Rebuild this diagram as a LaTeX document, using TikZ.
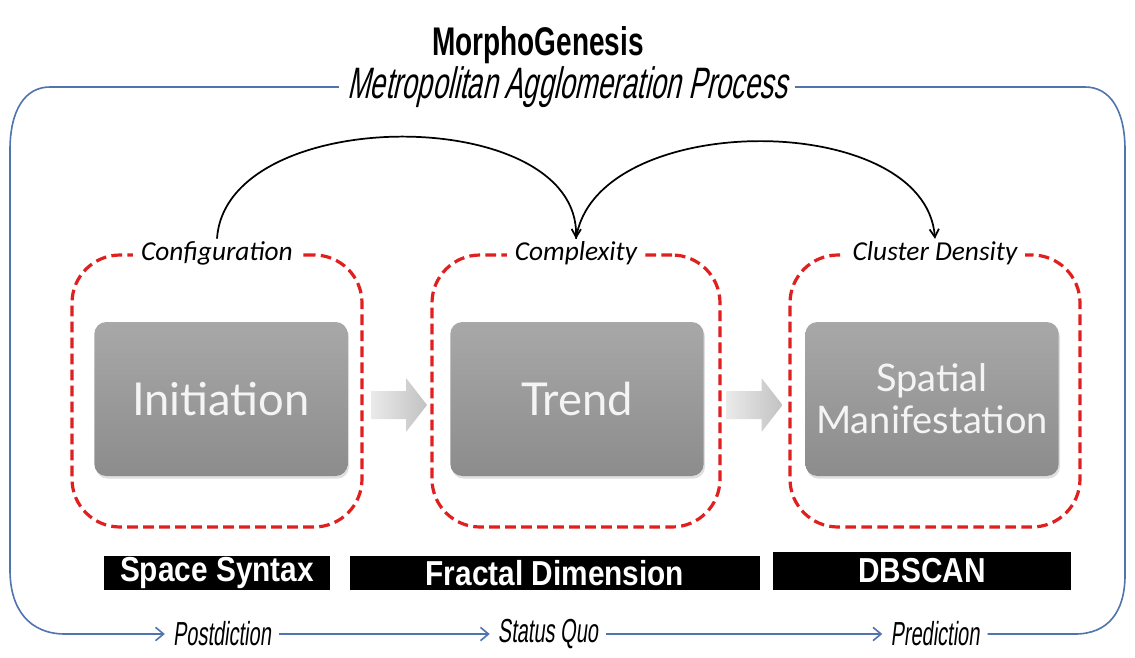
\documentclass[tikz,border=0pt]{standalone}
\usepackage{fontspec}
\setmainfont{Liberation Sans}
\newfontfamily\titlefont[FakeStretch=0.7]{Liberation Sans Bold}
\newfontfamily\subtfont[FakeStretch=0.62,FakeSlant=0.22]{Liberation Sans}
\newfontfamily\condit[FakeStretch=0.6,FakeSlant=0.12]{Liberation Sans}
\newfontfamily\blackfont[FakeStretch=0.86]{Liberation Sans Bold}
\newfontfamily\labfont{Carlito}
\newfontfamily\boxfont{Lato}
\usetikzlibrary{shadows,calc,arrows.meta}
\definecolor{frameblue}{HTML}{4F74AE}
\definecolor{dashred}{HTML}{E01F1F}
\definecolor{boxtop}{HTML}{A8A8A8}
\definecolor{boxbot}{HTML}{8C8C8C}
\definecolor{boxtext}{HTML}{F4F4F4}
\definecolor{arrl}{HTML}{EAEAEA}
\definecolor{arrr}{HTML}{C2C2C2}
\tikzset{
  graybox/.style={rectangle, rounded corners=9pt, top color=boxtop, bottom color=boxbot,
    minimum width=190pt, minimum height=115.5pt, text=boxtext, align=center,
    font=\boxfont\fontsize{34}{31}\selectfont,
    drop shadow={opacity=0.25, shadow xshift=1pt, shadow yshift=-2pt}},
  redbox/.style={rectangle, draw=dashred, line width=2.4pt, dash pattern=on 8pt off 4pt,
    rounded corners=36pt, minimum height=204pt, inner sep=0pt},
  grouplabel/.style={fill=white, inner xsep=6pt, inner ysep=2pt,
    font=\labfont\itshape\fontsize{20.5}{24}\selectfont},
  arcarrow/.style={line width=1.3pt, -{Straight Barb[length=6pt,width=7pt]}},
  blockarrow/.style={left color=arrl, right color=arrr, draw=none},
  blackbox/.style={fill=black, text=white, inner sep=0pt,
    font=\blackfont\fontsize{26}{28}\selectfont},
  bottomlabel/.style={inner xsep=6pt, font=\condit\fontsize{25}{28}\selectfont},
  frame/.style={draw=frameblue, line width=1.2pt},
  framearrow/.style={frame, -{Straight Barb[length=6pt,width=10pt]}}
}
\begin{document}
\begin{tikzpicture}[x=0.75pt,y=-0.75pt]
\path[use as bounding box, fill=white] (0,0) rectangle (1135,657);

% title
\node[font=\titlefont\fontsize{30}{34}\selectfont] (title) at (538,45) {MorphoGenesis};
\node[font=\subtfont\fontsize{33}{36}\selectfont, inner xsep=6pt, inner ysep=0pt] (subt) at (567,87) {Metropolitan Agglomeration Process};

% red dashed groups
\node[redbox, minimum width=217.5pt] (g1) at (217,391) {};
\node[redbox, minimum width=216pt] (g2) at (576,391) {};
\node[redbox, minimum width=217.5pt] (g3) at (935,391) {};
\node[grouplabel] (conf) at (g1.north) {Configuration};
\node[grouplabel] (cplx) at (g2.north) {Complexity};
\node[grouplabel] (clus) at (g3.north) {Cluster Density};

% gray boxes
\node[graybox] (init) at (221,399) {Initiation};
\node[graybox] (trend) at (577,399) {Trend};
\node[graybox, font=\boxfont\fontsize{28.5}{31.5}\selectfont] (spat) at (932,399) {Spatial\\Manifestation};

% block arrows
\coordinate (m1) at ($(init.east)!0.5!(trend.west)+(0,6)$);
\coordinate (m2) at ($(trend.east)!0.5!(spat.west)+(0,6)$);
\foreach \m in {m1,m2}{
  \shade[blockarrow, shift={(\m)}] (-28,-14) -- (7,-14) -- (7,-27) -- (28,0) -- (7,27) -- (7,14) -- (-28,14) -- cycle;
}

% arcs
\draw[arcarrow] (conf.north) .. controls (226,103) and (580,103) .. (cplx.north);
\draw[arcarrow] (cplx.north) .. controls (595,109) and (925,109) .. (clus.north);

% black method boxes
\node[blackbox, minimum width=169pt, minimum height=26pt] (ss) at (217,573) {Space Syntax};
\node[blackbox, minimum width=307.5pt, minimum height=26pt] (fd) at (555,573) {Fractal Dimension};
\node[blackbox, minimum width=223.5pt, minimum height=28.5pt] (db) at (922,571) {DBSCAN};

% bottom labels
\node[bottomlabel] (post) at (222,634) {Postdiction};
\node[bottomlabel] (sq) at (548,634) {Status Quo};
\node[bottomlabel] (pred) at (935,634) {Prediction};

% outer frame
\draw[framearrow] (subt.west) -- (50,87) .. controls (25,87) and (10,110) .. (10,150) -- (10,570) .. controls (10,610) and (30,634) .. (65,634) -- (post.west);
\draw[framearrow] (post.east) -- (sq.west);
\draw[framearrow] (sq.east) -- (pred.west);
\draw[frame] (pred.east) -- (1075,634) .. controls (1108,634) and (1125,612) .. (1125,575) -- (1125,150) .. controls (1125,110) and (1110,87) .. (1085,87) -- (subt.east);
\end{tikzpicture}
\end{document}
